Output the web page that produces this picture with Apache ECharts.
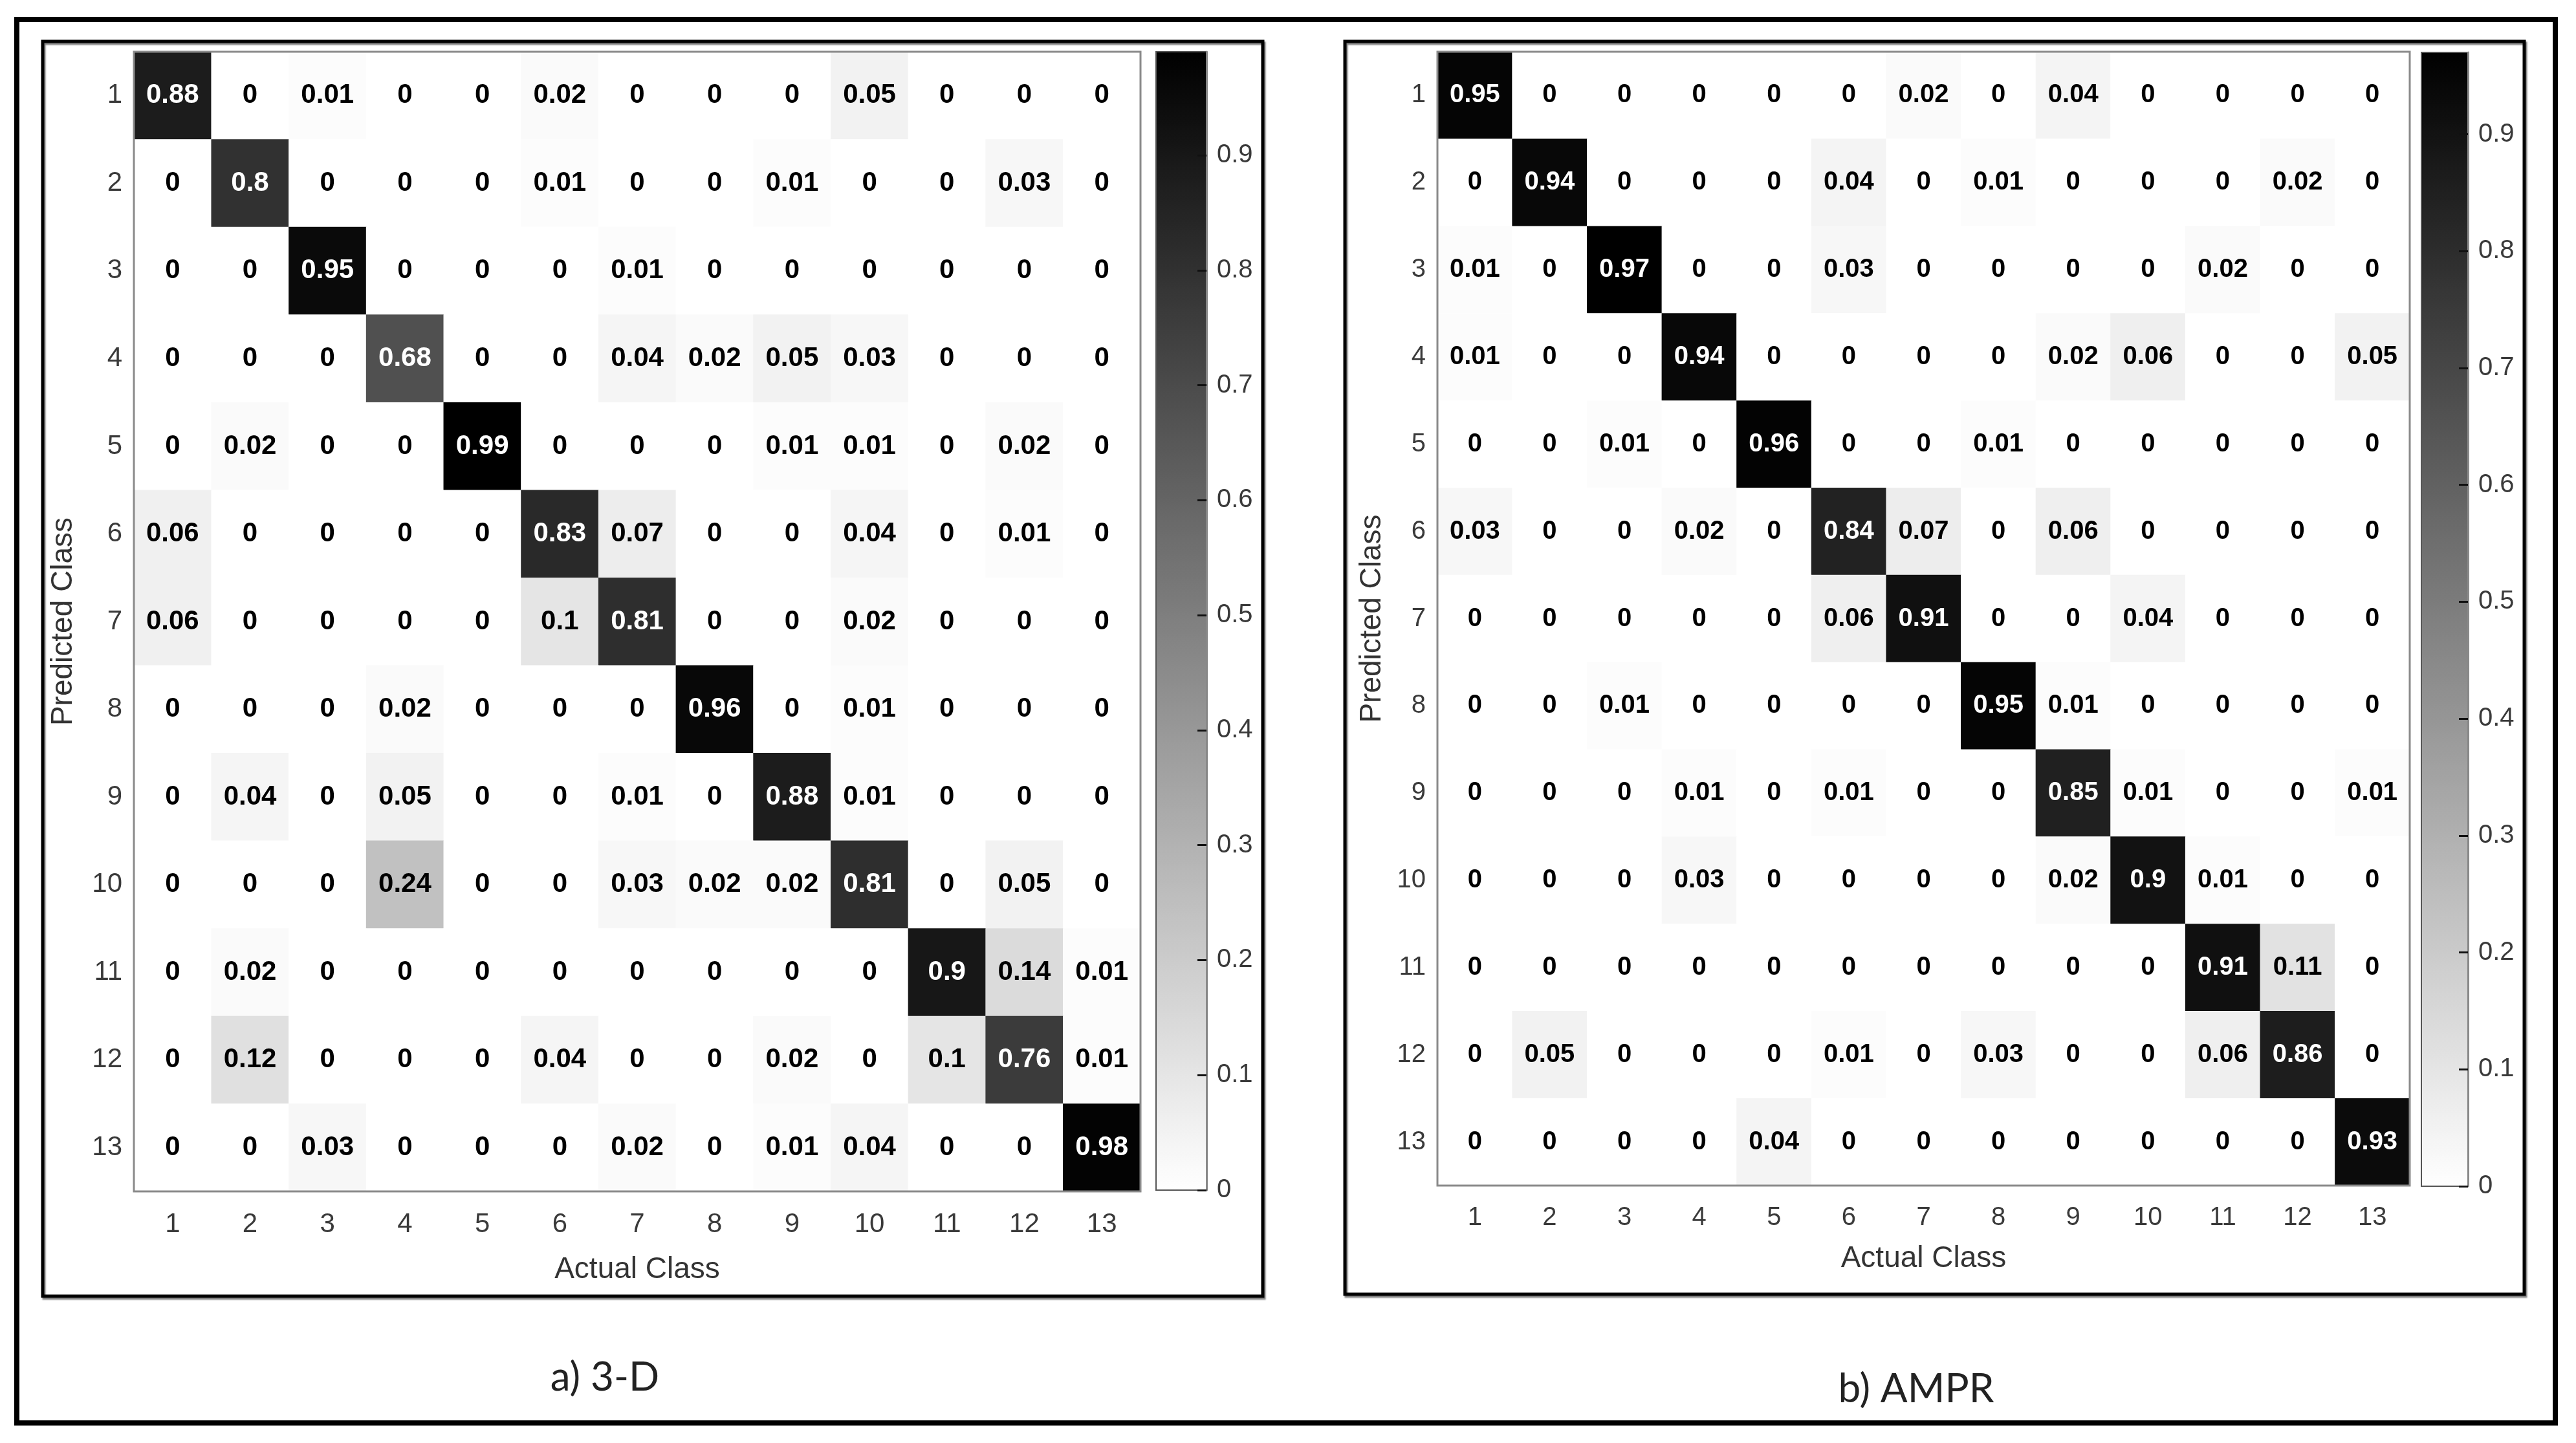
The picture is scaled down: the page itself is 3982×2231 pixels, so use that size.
<!DOCTYPE html>
<html>
<head>
<meta charset="utf-8">
<script src="https://cdn.jsdelivr.net/npm/echarts@6/dist/echarts.min.js"></script>
<style>
  html, body { margin: 0; padding: 0; background: #fff; }
  #chart { width: 3982px; height: 2231px; }
</style>
</head>
<body>
<div id="chart"></div>
<script>
// class labels, shared by both matrices
const classes = ['1', '2', '3', '4', '5', '6', '7', '8', '9', '10', '11', '12', '13'];

// a) 3-D : rows = predicted class, columns = actual class
const matrix3D = [
    [0.88, 0, 0.01, 0, 0, 0.02, 0, 0, 0, 0.05, 0, 0, 0],
    [0, 0.8, 0, 0, 0, 0.01, 0, 0, 0.01, 0, 0, 0.03, 0],
    [0, 0, 0.95, 0, 0, 0, 0.01, 0, 0, 0, 0, 0, 0],
    [0, 0, 0, 0.68, 0, 0, 0.04, 0.02, 0.05, 0.03, 0, 0, 0],
    [0, 0.02, 0, 0, 0.99, 0, 0, 0, 0.01, 0.01, 0, 0.02, 0],
    [0.06, 0, 0, 0, 0, 0.83, 0.07, 0, 0, 0.04, 0, 0.01, 0],
    [0.06, 0, 0, 0, 0, 0.1, 0.81, 0, 0, 0.02, 0, 0, 0],
    [0, 0, 0, 0.02, 0, 0, 0, 0.96, 0, 0.01, 0, 0, 0],
    [0, 0.04, 0, 0.05, 0, 0, 0.01, 0, 0.88, 0.01, 0, 0, 0],
    [0, 0, 0, 0.24, 0, 0, 0.03, 0.02, 0.02, 0.81, 0, 0.05, 0],
    [0, 0.02, 0, 0, 0, 0, 0, 0, 0, 0, 0.9, 0.14, 0.01],
    [0, 0.12, 0, 0, 0, 0.04, 0, 0, 0.02, 0, 0.1, 0.76, 0.01],
    [0, 0, 0.03, 0, 0, 0, 0.02, 0, 0.01, 0.04, 0, 0, 0.98]
];

// b) AMPR
const matrixAMPR = [
    [0.95, 0, 0, 0, 0, 0, 0.02, 0, 0.04, 0, 0, 0, 0],
    [0, 0.94, 0, 0, 0, 0.04, 0, 0.01, 0, 0, 0, 0.02, 0],
    [0.01, 0, 0.97, 0, 0, 0.03, 0, 0, 0, 0, 0.02, 0, 0],
    [0.01, 0, 0, 0.94, 0, 0, 0, 0, 0.02, 0.06, 0, 0, 0.05],
    [0, 0, 0.01, 0, 0.96, 0, 0, 0.01, 0, 0, 0, 0, 0],
    [0.03, 0, 0, 0.02, 0, 0.84, 0.07, 0, 0.06, 0, 0, 0, 0],
    [0, 0, 0, 0, 0, 0.06, 0.91, 0, 0, 0.04, 0, 0, 0],
    [0, 0, 0.01, 0, 0, 0, 0, 0.95, 0.01, 0, 0, 0, 0],
    [0, 0, 0, 0.01, 0, 0.01, 0, 0, 0.85, 0.01, 0, 0, 0.01],
    [0, 0, 0, 0.03, 0, 0, 0, 0, 0.02, 0.9, 0.01, 0, 0],
    [0, 0, 0, 0, 0, 0, 0, 0, 0, 0, 0.91, 0.11, 0],
    [0, 0.05, 0, 0, 0, 0.01, 0, 0.03, 0, 0, 0.06, 0.86, 0],
    [0, 0, 0, 0, 0.04, 0, 0, 0, 0, 0, 0, 0, 0.93]
];

// colorbar ranges (data min..max) and tick step
const range3D = [0, 0.99];
const rangeAMPR = [0, 0.97];
const colorbarStep = 0.1;

const captions = ['a) 3-D', 'b) AMPR'];
const xName = 'Actual Class';
const yName = 'Predicted Class';

const FONT = '"Liberation Sans", Arial, sans-serif';

function toCells(m, max) {
    const out = [];
    m.forEach((row, i) => {
        row.forEach((v, j) => {
            out.push({ value: [j, i, v], label: { color: v / max > 0.5 ? '#fff' : '#000' } });
        });
    });
    return out;
}

function catX(gridIndex, nameGap, size) {
    return {
        type: 'category', gridIndex: gridIndex, data: classes, position: 'bottom',
        axisLine: { show: false }, axisTick: { show: false }, splitLine: { show: false },
        axisLabel: { fontSize: size, color: '#3a3a3a', fontFamily: FONT, margin: 30 },
        name: xName, nameLocation: 'middle', nameGap: nameGap,
        nameTextStyle: { fontSize: 46, color: '#333', fontFamily: FONT }
    };
}

function catY(gridIndex, nameGap, size) {
    return {
        type: 'category', gridIndex: gridIndex, data: classes, inverse: true,
        axisLine: { show: false }, axisTick: { show: false }, splitLine: { show: false },
        axisLabel: { fontSize: size, color: '#3a3a3a', fontFamily: FONT, margin: 18 },
        name: yName, nameLocation: 'middle', nameGap: nameGap, nameRotate: 90,
        nameTextStyle: { fontSize: 46, color: '#333', fontFamily: FONT }
    };
}

// colorbar scale: ticks sit on the right edge, pointing into the bar
function barY(gridIndex, range) {
    return {
        type: 'value', gridIndex: gridIndex, position: 'right', z: 20,
        min: range[0], max: range[1], interval: colorbarStep,
        axisLine: { show: true, onZero: false, lineStyle: { color: '#888', width: 3 } },
        axisTick: { show: true, inside: true, length: 14, lineStyle: { color: '#111', width: 3 } },
        splitLine: { show: false },
        axisLabel: {
            fontSize: 40, color: '#3a3a3a', fontFamily: FONT, margin: 16, showMaxLabel: false,
            formatter: v => (Math.round(v * 10) === v * 10 ? String(v) : '')
        }
    };
}

function heat(xi, yi, m, max, size) {
    return {
        type: 'heatmap', xAxisIndex: xi, yAxisIndex: yi,
        data: toCells(m, max),
        label: { show: true, fontSize: size, fontWeight: 'bold', fontFamily: FONT,
            formatter: p => String(p.value[2]) },
        itemStyle: { borderWidth: 0 },
        emphasis: { disabled: true }
    };
}

const chart = echarts.init(document.getElementById('chart'));

const option = {
    backgroundColor: '#fff',
    animation: false,
    grid: [
        { left: 207, top: 80, width: 1556, height: 1762, show: true, z: 5, borderColor: '#8a8a8a', borderWidth: 3 },
        { left: 1787, top: 80, width: 78, height: 1760, show: true, z: 15, borderColor: '#555', borderWidth: 2 },
        { left: 2222, top: 80, width: 1503, height: 1753, show: true, z: 5, borderColor: '#8a8a8a', borderWidth: 3 },
        { left: 3743, top: 81, width: 72, height: 1753, show: true, z: 15, borderColor: '#555', borderWidth: 2 }
    ],
    xAxis: [
        catX(0, 98, 42),
        { type: 'category', gridIndex: 1, data: ['bar'], show: false },
        catX(2, 90, 40),
        { type: 'category', gridIndex: 3, data: ['bar'], show: false }
    ],
    yAxis: [
        catY(0, 86, 42),
        barY(1, range3D),
        catY(2, 78, 40),
        barY(3, rangeAMPR)
    ],
    visualMap: [
        {
            type: 'continuous', seriesIndex: 0, min: range3D[0], max: range3D[1],
            inRange: { color: ['#ffffff', '#000000'] },
            calculable: false, hoverLink: false, padding: 0, z: 1,
            left: 1787, top: 80, itemWidth: 78, itemHeight: 1760, text: null
        },
        {
            type: 'continuous', seriesIndex: 1, min: rangeAMPR[0], max: rangeAMPR[1],
            inRange: { color: ['#ffffff', '#000000'] },
            calculable: false, hoverLink: false, padding: 0, z: 1,
            left: 3743, top: 81, itemWidth: 72, itemHeight: 1753, text: null
        }
    ],
    series: [
        heat(0, 0, matrix3D, range3D[1], 42),
        heat(2, 2, matrixAMPR, rangeAMPR[1], 40)
    ],
    graphic: [
        // outer frame
        { type: 'rect', shape: { x: 26, y: 30, width: 3924, height: 2170 },
          style: { fill: 'none', stroke: '#000', lineWidth: 8 }, z: 10 },
        // panel frames
        { type: 'rect', shape: { x: 66, y: 64, width: 1886, height: 1940 },
          style: { fill: 'none', stroke: '#000', lineWidth: 5, shadowColor: 'rgba(0,0,0,0.5)', shadowOffsetX: 2, shadowOffsetY: 3, shadowBlur: 2 }, z: 10 },
        { type: 'rect', shape: { x: 2079, y: 64, width: 1823, height: 1937 },
          style: { fill: 'none', stroke: '#000', lineWidth: 5, shadowColor: 'rgba(0,0,0,0.5)', shadowOffsetX: 2, shadowOffsetY: 3, shadowBlur: 2 }, z: 10 },
        // captions
        { type: 'text', x: 935, y: 2130, z: 10,
          style: { text: captions[0], font: '62px Lato, sans-serif', fill: '#222', align: 'center', verticalAlign: 'middle' } },
        { type: 'text', x: 2962, y: 2148, z: 10,
          style: { text: captions[1], font: '62px Lato, sans-serif', fill: '#222', align: 'center', verticalAlign: 'middle' } }
    ]
};

chart.setOption(option);
</script>
</body>
</html>
